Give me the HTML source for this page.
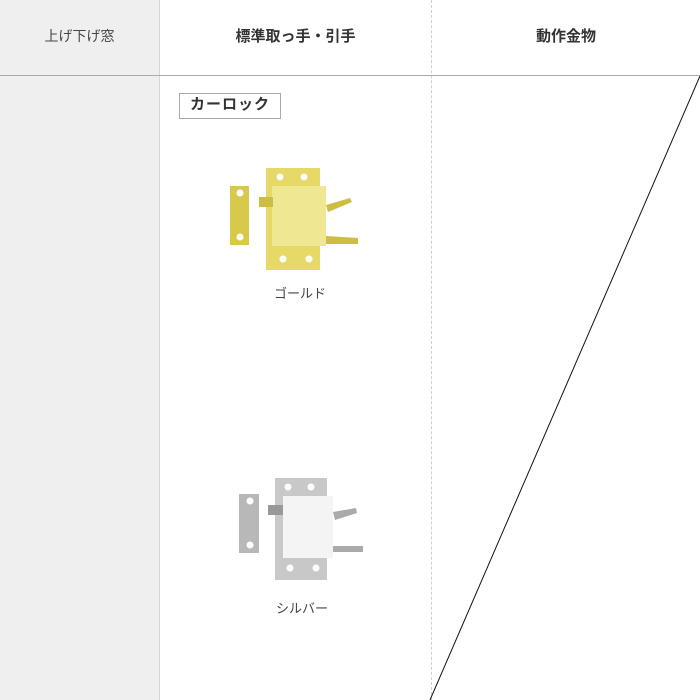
<!DOCTYPE html>
<html><head><meta charset="utf-8"><style>
body{margin:0;width:700px;height:700px;overflow:hidden;background:#fff;font-family:"Liberation Sans","Noto Sans CJK JP",sans-serif;position:relative}
.a{position:absolute}
</style></head><body>
<div class="a" style="left:0;top:0;width:159px;height:700px;background:#efefef"></div>
<div class="a" style="left:159px;top:0;width:1px;height:700px;background:#d6d6d6"></div>
<div class="a" style="left:431px;top:0;height:700px;border-left:1px dashed #cfcfcf"></div>
<div class="a" style="left:0;top:75px;width:700px;height:1px;background:#ababab"></div>
<div class="a" style="left:0;top:26px;width:159px;text-align:center;font-size:14px;color:#444">上げ下げ窓</div>
<div class="a" style="left:160px;top:25px;width:271px;text-align:center;font-size:15px;font-weight:bold;color:#333">標準取っ手・引手</div>
<div class="a" style="left:432px;top:25px;width:268px;text-align:center;font-size:15px;font-weight:bold;color:#333">動作金物</div>
<div class="a" style="left:179px;top:93px;width:100px;height:24px;border:1px solid #aaa;font-size:15px;font-weight:bold;color:#333;line-height:22px;text-indent:10px;letter-spacing:1px">カーロック</div>
<svg class="a" style="left:0;top:0" width="700" height="700">
<line x1="700" y1="76" x2="430" y2="700" stroke="#111" stroke-width="1"/>
<g>
<rect x="230" y="186" width="19" height="59" fill="#d8c94a"/>
<circle cx="240" cy="193" r="3.5" fill="#fff"/><circle cx="240" cy="237" r="3.5" fill="#fff"/>
<rect x="266" y="168" width="54" height="102" fill="#e6d968"/>
<rect x="272" y="186" width="54" height="60" fill="#efe792"/>
<rect x="259" y="197" width="14" height="10" fill="#cdbd45"/>
<path d="M326 205 L350 198 L352 202 L328 212Z" fill="#cdbd45"/>
<path d="M326 236 L358 238 L358 244 L326 244Z" fill="#cdbd45"/>
<circle cx="280" cy="177" r="3.5" fill="#fff"/><circle cx="304" cy="177" r="3.5" fill="#fff"/>
<circle cx="283" cy="259" r="3.5" fill="#fff"/><circle cx="309" cy="259" r="3.5" fill="#fff"/>
</g>
<g>
<rect x="239" y="494" width="20" height="59" fill="#b8b8b8"/>
<circle cx="250" cy="501" r="3.5" fill="#fff"/><circle cx="250" cy="545" r="3.5" fill="#fff"/>
<rect x="275" y="478" width="52" height="102" fill="#c8c8c8"/>
<rect x="283" y="496" width="50" height="62" fill="#f4f4f4"/>
<rect x="268" y="505" width="15" height="10" fill="#999"/>
<path d="M333 512 L356 508 L357 513 L335 520Z" fill="#aaa"/>
<path d="M333 546 L363 546 L363 552 L333 552Z" fill="#aaa"/>
<circle cx="288" cy="487" r="3.5" fill="#fff"/><circle cx="311" cy="487" r="3.5" fill="#fff"/>
<circle cx="290" cy="568" r="3.5" fill="#fff"/><circle cx="316" cy="568" r="3.5" fill="#fff"/>
</g>
</svg>
<div class="a" style="left:250px;top:283px;width:100px;text-align:center;font-size:13px;color:#444">ゴールド</div>
<div class="a" style="left:252px;top:598px;width:100px;text-align:center;font-size:13px;color:#444">シルバー</div>
</body></html>
